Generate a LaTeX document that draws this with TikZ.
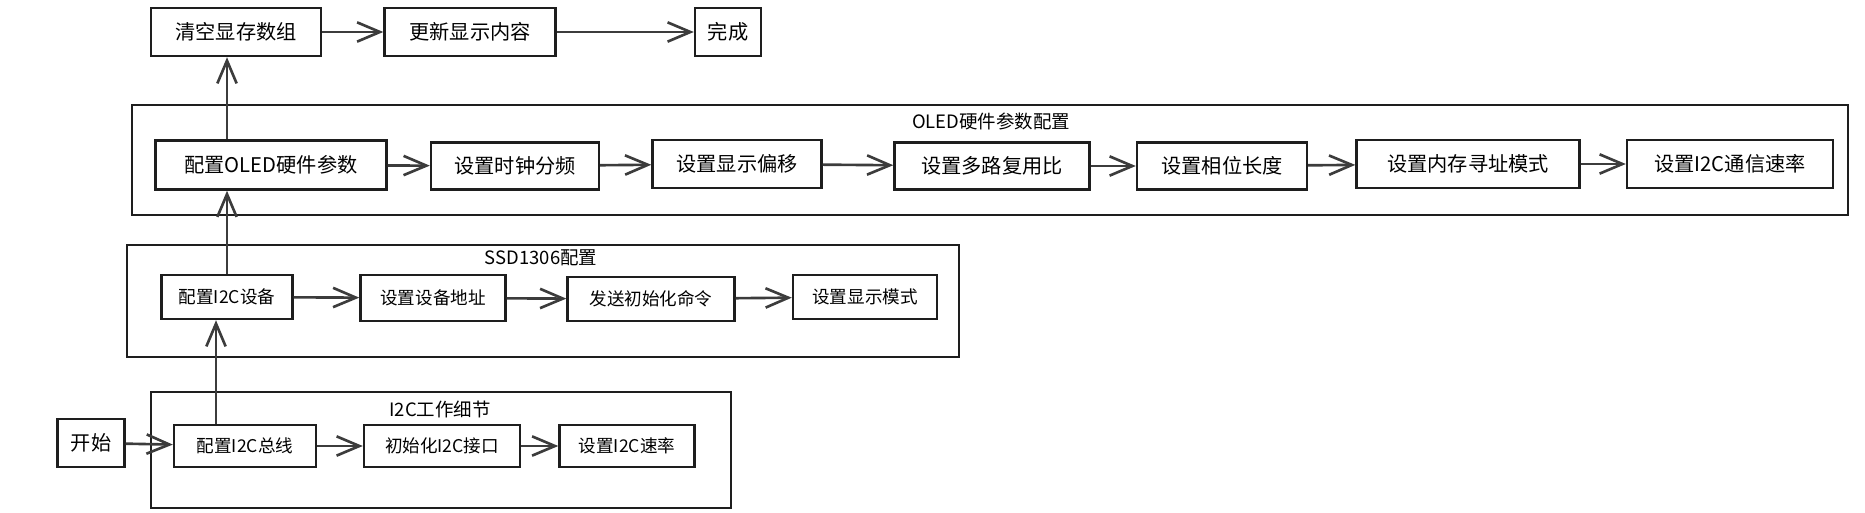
\documentclass[tikz,border=0pt]{standalone}
\usepackage{fontspec}
\setmainfont{Noto Sans CJK SC}
\usepackage{tikz}
\usetikzlibrary{arrows.meta,calc}
\definecolor{inkdark}{RGB}{30,30,30}
\definecolor{arrowgray}{RGB}{60,60,60}

\begin{document}
\begin{tikzpicture}[x=0.02cm,y=-0.02cm,
  box/.style={draw=inkdark,line width=1.4pt,inner sep=0pt,font=\fontsize{11.5}{13}\selectfont},
  smallbox/.style={box,font=\fontsize{10}{12}\selectfont},
  group/.style={draw=inkdark,line width=1.2pt},
  grouptitle/.style={font=\fontsize{10.5}{12}\selectfont},
  arr/.style={draw=arrowgray,line width=1.5pt,-{Straight Barb[length=13pt,width=11pt,line width=1.5pt]}}]

\useasboundingbox (0,0) rectangle (1865,513);

% groups
\draw[group] (132,105) rectangle (1848,215);
\node[grouptitle] (t-oled) at (991,121) {OLED硬件参数配置};
\draw[group] (127,245) rectangle (959,357);
\node[grouptitle] (t-ssd) at (541,258) {SSD1306配置};
\draw[group] (151,392) rectangle (731,508);
\node[grouptitle] (t-i2c) at (440,409) {I2C工作细节};

% top row
\node[box,minimum width=3.40cm,minimum height=0.96cm] (clear) at (236,32) {清空显存数组};
\node[box,minimum width=3.42cm,minimum height=0.96cm] (update) at (470,32) {更新显示内容};
\node[box,minimum width=1.32cm,minimum height=0.96cm] (done) at (728,32) {完成};

% OLED row
\node[box,minimum width=4.62cm,minimum height=0.98cm] (oledhw) at (271,165) {配置OLED硬件参数};
\node[box,minimum width=3.36cm,minimum height=0.94cm] (clk) at (515,166) {设置时钟分频};
\node[box,minimum width=3.38cm,minimum height=0.96cm] (offset) at (737,164) {设置显示偏移};
\node[box,minimum width=3.90cm,minimum height=0.94cm] (mux) at (992,166) {设置多路复用比};
\node[box,minimum width=3.40cm,minimum height=0.94cm] (phase) at (1222,166) {设置相位长度};
\node[box,minimum width=4.46cm,minimum height=0.96cm] (addr) at (1468,164) {设置内存寻址模式};
\node[box,minimum width=4.12cm,minimum height=0.96cm] (rate) at (1730,164) {设置I2C通信速率};

% SSD1306 row
\node[smallbox,minimum width=2.62cm,minimum height=0.88cm] (dev) at (227,297) {配置I2C设备};
\node[smallbox,minimum width=2.90cm,minimum height=0.92cm] (devaddr) at (433,298) {设置设备地址};
\node[smallbox,minimum width=3.34cm,minimum height=0.88cm] (init) at (651,299) {发送初始化命令};
\node[smallbox,minimum width=2.88cm,minimum height=0.88cm] (mode) at (865,297) {设置显示模式};

% I2C row
\node[box,minimum width=1.34cm,minimum height=0.96cm] (start) at (91,443) {开始};
\node[smallbox,minimum width=2.84cm,minimum height=0.84cm] (bus) at (245,446) {配置I2C总线};
\node[smallbox,minimum width=3.12cm,minimum height=0.84cm] (iface) at (442,446) {初始化I2C接口};
\node[smallbox,minimum width=2.70cm,minimum height=0.84cm] (speed) at (627,446) {设置I2C速率};

\draw[arr] (start) -- (bus);
\draw[arr] (bus) -- (iface);
\draw[arr] (iface) -- (speed);
\draw[arr] ($(bus.north)+(-29,0)$) -- ($(dev.south)+(-11,0)$);

\draw[arr] (dev) -- (devaddr);
\draw[arr] (devaddr) -- (init);
\draw[arr] (init) -- (mode);
\draw[arr] (dev.north) -- (dev.north |- oledhw.south);

\draw[arr] (oledhw) -- (clk);
\draw[arr] (clk) -- (offset);
\draw[arr] (offset) -- (mux);
\draw[arr] (mux) -- (phase);
\draw[arr] (phase) -- (addr);
\draw[arr] (addr) -- (rate);
\draw[arr] (dev.north |- oledhw.north) -- (dev.north |- clear.south);

\draw[arr] (clear) -- (update);
\draw[arr] (update) -- (done);
\end{tikzpicture}
\end{document}
